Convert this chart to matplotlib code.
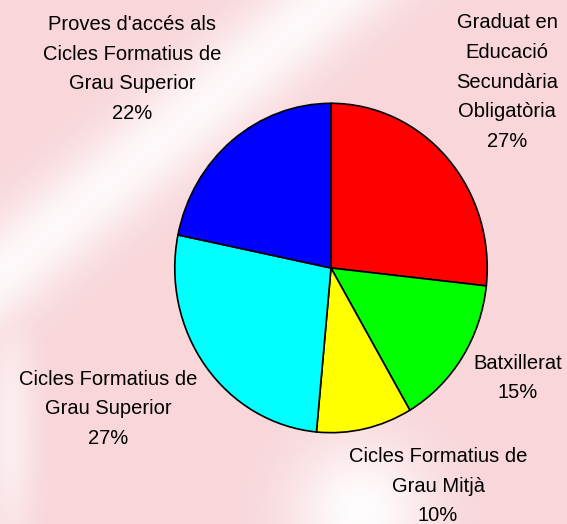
import numpy as np
import matplotlib.pyplot as plt

# data
categories = ["Graduat en\nEducació\nSecundària\nObligatòria",
              "Batxillerat",
              "Cicles Formatius de\nGrau Mitjà",
              "Cicles Formatius de\nGrau Superior",
              "Proves d'accés als\nCicles Formatius de\nGrau Superior"]
values = [27, 15, 10, 27, 22]
colors = ["#ff0000", "#00ff00", "#ffff00", "#00ffff", "#0000ff"]

# label centres in pixels (x, y from top)
label_pos = [(507, 82), (518, 378), (438, 486), (108, 409), (132, 69)]

W, H = 567, 524
fig = plt.figure(figsize=(W / 100, H / 100), dpi=100)

# blurred pinkish background
bg = fig.add_axes([0, 0, 1, 1])
yy, xx = np.mgrid[0:H, 0:W]
pink = np.array([248, 214, 218]) / 255.0
# white diagonal streak top-middle -> left
x0, y0, x1, y1 = 340, -10, -20, 290
d = np.abs((y1 - y0) * xx - (x1 - x0) * yy + x1 * y0 - y1 * x0) / np.hypot(x1 - x0, y1 - y0)
w = 0.85 * np.exp(-(d / 45.0) ** 2)
w = np.maximum(w, 0.95 * np.exp(-(((xx - 360) / 70.0) ** 2 + ((yy - 510) / 70.0) ** 2)))
w = np.maximum(w, 0.6 * np.exp(-(((xx - 10) / 25.0) ** 2 + ((yy - 430) / 120.0) ** 2)))
img = pink[None, None, :] * (1 - w[..., None]) + w[..., None]
bg.imshow(img, extent=[0, W, H, 0], aspect='auto')
bg.set_xlim(0, W)
bg.set_ylim(H, 0)
bg.axis('off')

# pie (slightly taller than wide, as in the original)
cx, cy, rx, ry = 331, 268, 157, 165.5
ax = fig.add_axes([(cx - rx) / W, (H - cy - ry) / H, 2 * rx / W, 2 * ry / H])
ax.pie(values, colors=colors, startangle=90, counterclock=False,
       wedgeprops=dict(edgecolor='black', linewidth=1.2))
ax.set_aspect('auto')
ax.set_xlim(-1.005, 1.005)
ax.set_ylim(-1.005, 1.005)

total = sum(values)
for name, v, (px, py) in zip(categories, values, label_pos):
    txt = name + "\n" + "%.0f%%" % (100.0 * v / total)
    fig.text(px / W, 1 - py / H, txt, ha='center', va='center',
             fontsize=14.5, family='Liberation Sans', linespacing=1.72)

fig.savefig("out.png", dpi=100)
